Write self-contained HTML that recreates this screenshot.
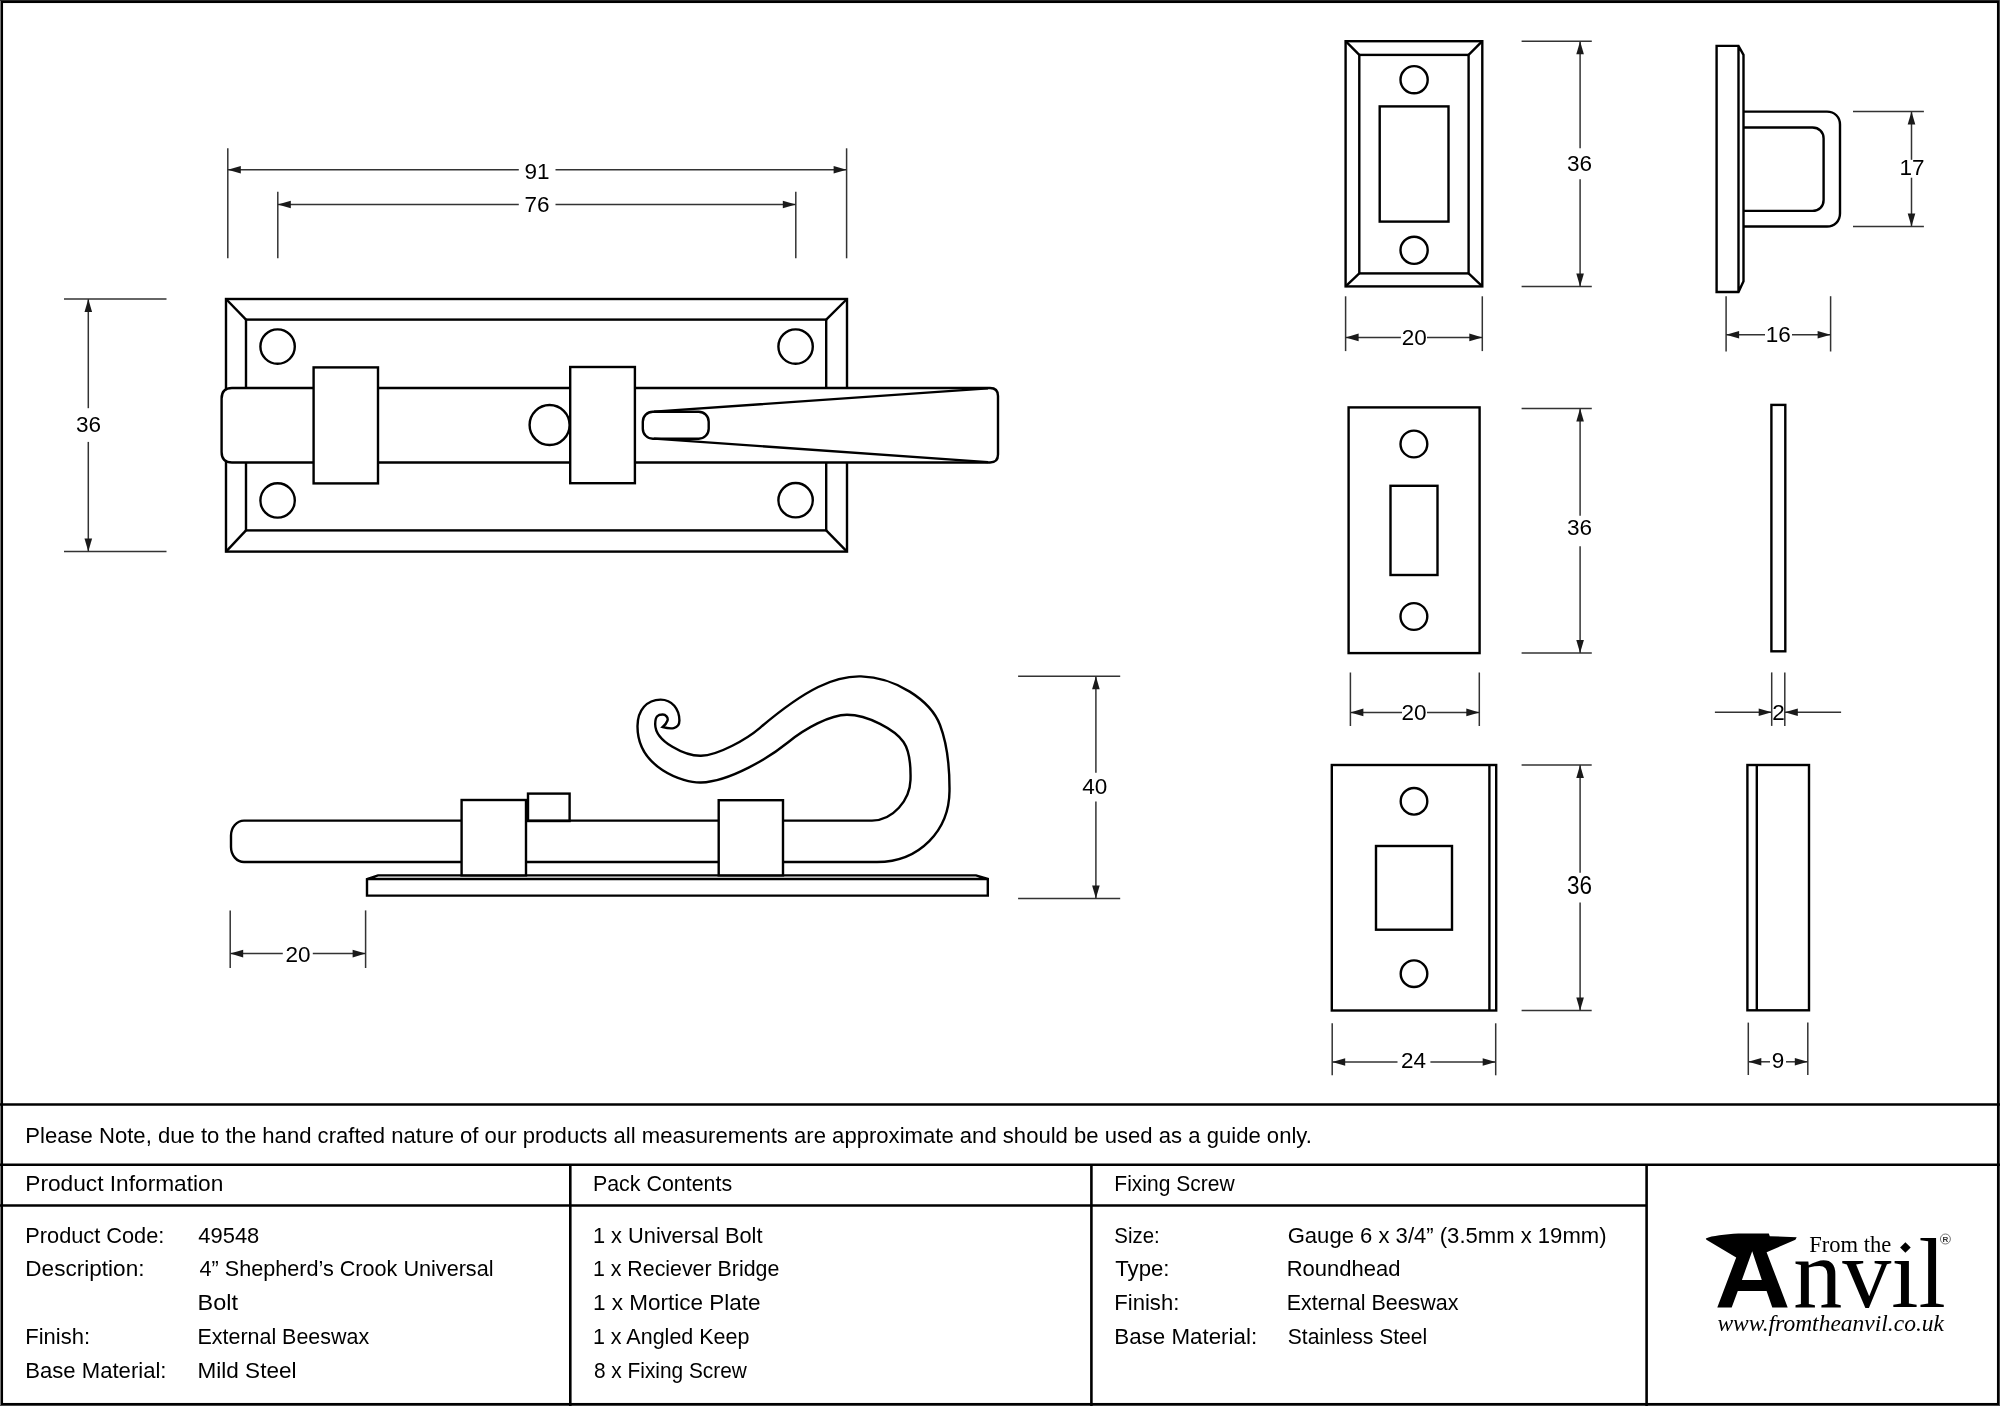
<!DOCTYPE html>
<html><head><meta charset="utf-8"><style>
html,body{margin:0;padding:0;background:#fff;width:2000px;height:1406px;overflow:hidden}
svg{display:block}
svg{will-change:transform}
text{stroke:none !important;fill:#000}
.d{font-family:"Liberation Sans",sans-serif}
.tt{font-family:"Liberation Sans",sans-serif}
.sf{font-family:"Liberation Serif",serif;fill:#000}
.si{font-family:"Liberation Serif",serif;font-style:italic;fill:#000}
.sb{font-family:"Liberation Sans",sans-serif;font-weight:bold;fill:#333}
</style></head><body>
<svg width="2000" height="1406" viewBox="0 0 2000 1406" fill="none" stroke="#000" stroke-linecap="butt" stroke-linejoin="miter">
<rect x="0" y="0" width="1" height="1406" fill="#808080" stroke="none"/>
<rect x="0" y="0" width="2000" height="1" fill="#2a2a2a" stroke="none"/>
<rect x="1999" y="0" width="1" height="1406" fill="#4a4a4a" stroke="none"/>
<rect x="0" y="1405" width="2000" height="1" fill="#4a4a4a" stroke="none"/>
<rect x="2" y="2" width="1996" height="1402" stroke-width="2.1" fill="none"/>
<rect x="226" y="299" width="621" height="252.6" stroke-width="2.4" fill="none"/>
<rect x="246" y="319.6" width="580.2" height="210.8" stroke-width="2.4" fill="none"/>
<line x1="226" y1="299" x2="246" y2="319.6" stroke-width="2.4"/>
<line x1="847" y1="299" x2="826.2" y2="319.6" stroke-width="2.4"/>
<line x1="226" y1="551.6" x2="246" y2="530.4" stroke-width="2.4"/>
<line x1="847" y1="551.6" x2="826.2" y2="530.4" stroke-width="2.4"/>
<circle cx="277.6" cy="346.6" r="17.2" stroke-width="2.4" fill="none"/>
<circle cx="277.6" cy="500.4" r="17.2" stroke-width="2.4" fill="none"/>
<circle cx="795.6" cy="346.6" r="17.2" stroke-width="2.4" fill="none"/>
<circle cx="795.6" cy="500.2" r="17.2" stroke-width="2.4" fill="none"/>
<path d="M 232 388 L 990 388 Q 998 388 998 396 L 998 454.5 Q 998 462.5 990 462.5 L 232 462.5 Q 221.6 462.5 221.6 452 L 221.6 398.5 Q 221.6 388 232 388 Z" stroke-width="2.4" fill="#fff"/>
<circle cx="549.6" cy="425" r="20" stroke-width="2.4" fill="#fff"/>
<rect x="313.6" y="367.4" width="64.4" height="116.0" stroke-width="2.4" fill="#fff"/>
<rect x="570.2" y="367" width="64.7" height="116.2" stroke-width="2.4" fill="#fff"/>
<path d="M 654 411.6 L 988 388.4 M 654 438.6 L 988 462.1" stroke-width="2.4" fill="none"/>
<rect x="642.8" y="411.7" width="65.9" height="27.0" stroke-width="2.4" fill="none" rx="10"/>
<line x1="227.8" y1="148.3" x2="227.8" y2="258.3" stroke-width="1.5" stroke="#333"/>
<line x1="846.6" y1="148.3" x2="846.6" y2="258.3" stroke-width="1.5" stroke="#333"/>
<line x1="277.8" y1="191.7" x2="277.8" y2="258.3" stroke-width="1.5" stroke="#333"/>
<line x1="795.8" y1="191.7" x2="795.8" y2="258.3" stroke-width="1.5" stroke="#333"/>
<line x1="227.8" y1="169.7" x2="518.8" y2="169.7" stroke-width="1.5" stroke="#333"/>
<line x1="555.5" y1="169.7" x2="846.6" y2="169.7" stroke-width="1.5" stroke="#333"/>
<polygon points="227.8,169.7 240.8,165.9 240.8,173.5" stroke="none" fill="#1a1a1a"/>
<polygon points="846.6,169.7 833.6,165.9 833.6,173.5" stroke="none" fill="#1a1a1a"/>
<text x="537" y="178.5" text-anchor="middle" font-size="22.5" class="d">91</text>
<line x1="277.8" y1="204.5" x2="518.8" y2="204.5" stroke-width="1.5" stroke="#333"/>
<line x1="555.5" y1="204.5" x2="795.8" y2="204.5" stroke-width="1.5" stroke="#333"/>
<polygon points="277.8,204.5 290.8,200.7 290.8,208.3" stroke="none" fill="#1a1a1a"/>
<polygon points="795.8,204.5 782.8,200.7 782.8,208.3" stroke="none" fill="#1a1a1a"/>
<text x="537" y="211.8" text-anchor="middle" font-size="22.5" class="d">76</text>
<line x1="64" y1="299" x2="166.5" y2="299" stroke-width="1.5" stroke="#333"/>
<line x1="64" y1="551.5" x2="166.5" y2="551.5" stroke-width="1.5" stroke="#333"/>
<line x1="88.3" y1="299" x2="88.3" y2="408.2" stroke-width="1.5" stroke="#333"/>
<line x1="88.3" y1="441.9" x2="88.3" y2="551.5" stroke-width="1.5" stroke="#333"/>
<polygon points="88.3,299 84.5,312 92.1,312" stroke="none" fill="#1a1a1a"/>
<polygon points="88.3,551.5 84.5,538.5 92.1,538.5" stroke="none" fill="#1a1a1a"/>
<text x="88.5" y="431.5" text-anchor="middle" font-size="22.5" class="d">36</text>
<path d="M 378 875.4 L 976 875.4 L 987.8 879 L 987.8 895.6 L 367 895.6 L 367 879 Z M 367 879 L 987.8 879" stroke-width="2.4" fill="none"/>
<path d="M 244 820.6 L 872 820.6 C 893 820.6 909.94 799.99 910.5 780 C 910.95 763.97 909.0 750.0 903.5 742 C 895.25 730.0 868.0 714.8 847 714.8 C 830.0 714.8 804.79 728.74 788.5 742 C 769.78 757.24 729.98 781.55 701 782.5 C 683.94 783.06 637.14 768.0 637.5 726 C 637.64 710.0 647.0 699.6 660.6 699.6 C 672.0 699.6 679.4 709.0 679.4 720.6 C 679.4 730.0 670 729 662.7 727 C 664.5 725.5 666.5 723.5 667.5 720.5 C 668.5 717.5 665.5 714.5 662.7 714.5 C 658.0 714.5 655.26 716.0 655.2 724 C 655.06 742.0 685.99 756.13 701 755.8 C 718.0 755.43 746.41 739.35 760 727.8 C 806.55 688.23 835.01 675.71 861 676.4 C 895.03 677.31 930.41 699.84 940 725 C 946.42 741.85 949.7 765.0 949.5 791 C 949.2 830.0 920 862 877 862 L 244 862 A 13 15 0 0 1 231 847 L 231 835.6 A 13 15 0 0 1 244 820.6 Z" stroke-width="2.4" fill="#fff"/>
<rect x="461.6" y="800" width="64.4" height="75.4" stroke-width="2.4" fill="#fff"/>
<rect x="528" y="793.6" width="41.6" height="27.4" stroke-width="2.4" fill="none"/>
<rect x="718.7" y="800.2" width="64.3" height="75.2" stroke-width="2.4" fill="#fff"/>
<line x1="1018.1" y1="676.3" x2="1120.2" y2="676.3" stroke-width="1.5" stroke="#333"/>
<line x1="1018.1" y1="898.6" x2="1120.2" y2="898.6" stroke-width="1.5" stroke="#333"/>
<line x1="1095.9" y1="676.3" x2="1095.9" y2="772.7" stroke-width="1.5" stroke="#333"/>
<line x1="1095.9" y1="801.5" x2="1095.9" y2="898.6" stroke-width="1.5" stroke="#333"/>
<polygon points="1095.9,676.3 1092.1,689.3 1099.7,689.3" stroke="none" fill="#1a1a1a"/>
<polygon points="1095.9,898.6 1092.1,885.6 1099.7,885.6" stroke="none" fill="#1a1a1a"/>
<text x="1094.8" y="794.0" text-anchor="middle" font-size="22.5" class="d">40</text>
<line x1="230.2" y1="910.4" x2="230.2" y2="968" stroke-width="1.5" stroke="#333"/>
<line x1="365.6" y1="910.4" x2="365.6" y2="968" stroke-width="1.5" stroke="#333"/>
<line x1="230.2" y1="953.6" x2="282.8" y2="953.6" stroke-width="1.5" stroke="#333"/>
<line x1="312.8" y1="953.6" x2="365.6" y2="953.6" stroke-width="1.5" stroke="#333"/>
<polygon points="230.2,953.6 243.2,949.8 243.2,957.4" stroke="none" fill="#1a1a1a"/>
<polygon points="365.6,953.6 352.6,949.8 352.6,957.4" stroke="none" fill="#1a1a1a"/>
<text x="298" y="961.6" text-anchor="middle" font-size="22.5" class="d">20</text>
<rect x="1345.6" y="41.2" width="136.7" height="245.2" stroke-width="2.4" fill="none"/>
<rect x="1359.3" y="54.9" width="109.3" height="218.5" stroke-width="2.4" fill="none"/>
<line x1="1345.6" y1="41.2" x2="1359.3" y2="54.9" stroke-width="2.4"/>
<line x1="1482.3" y1="41.2" x2="1468.6" y2="54.9" stroke-width="2.4"/>
<line x1="1345.6" y1="286.4" x2="1359.3" y2="273.4" stroke-width="2.4"/>
<line x1="1482.3" y1="286.4" x2="1468.6" y2="273.4" stroke-width="2.4"/>
<circle cx="1414.1" cy="79.7" r="13.6" stroke-width="2.4" fill="none"/>
<circle cx="1414.1" cy="250.3" r="13.6" stroke-width="2.4" fill="none"/>
<rect x="1379.7" y="106.4" width="68.8" height="115.2" stroke-width="2.4" fill="none"/>
<line x1="1521.6" y1="41.2" x2="1591.8" y2="41.2" stroke-width="1.5" stroke="#333"/>
<line x1="1521.6" y1="286.4" x2="1591.8" y2="286.4" stroke-width="1.5" stroke="#333"/>
<line x1="1580.1" y1="41.2" x2="1580.1" y2="148.2" stroke-width="1.5" stroke="#333"/>
<line x1="1580.1" y1="179.3" x2="1580.1" y2="286.4" stroke-width="1.5" stroke="#333"/>
<polygon points="1580.1,41.2 1576.3,54.2 1583.9,54.2" stroke="none" fill="#1a1a1a"/>
<polygon points="1580.1,286.4 1576.3,273.4 1583.9,273.4" stroke="none" fill="#1a1a1a"/>
<text x="1579.4" y="170.6" text-anchor="middle" font-size="22.5" class="d">36</text>
<line x1="1345.6" y1="296.3" x2="1345.6" y2="351.1" stroke-width="1.5" stroke="#333"/>
<line x1="1482.3" y1="296.3" x2="1482.3" y2="351.1" stroke-width="1.5" stroke="#333"/>
<line x1="1345.6" y1="337.4" x2="1400.9" y2="337.4" stroke-width="1.5" stroke="#333"/>
<line x1="1427" y1="337.4" x2="1482.3" y2="337.4" stroke-width="1.5" stroke="#333"/>
<polygon points="1345.6,337.4 1358.6,333.6 1358.6,341.2" stroke="none" fill="#1a1a1a"/>
<polygon points="1482.3,337.4 1469.3,333.6 1469.3,341.2" stroke="none" fill="#1a1a1a"/>
<text x="1414.2" y="344.9" text-anchor="middle" font-size="22.5" class="d">20</text>
<path d="M 1716.6 45.9 L 1738.5 45.9 L 1743.5 54.8 L 1743.5 281.3 L 1738.5 292 L 1716.6 292 Z M 1738.5 45.9 L 1738.5 292" stroke-width="2.4" fill="none"/>
<path d="M 1743.5 111.6 L 1827 111.6 C 1834.5 111.6 1840 117 1840 124.6 L 1840 213.5 C 1840 221 1834.5 226.5 1827 226.5 L 1743.5 226.5" stroke-width="2.4" fill="none"/>
<path d="M 1743.5 127.5 L 1812.5 127.5 C 1819 127.5 1823.6 132 1823.6 138.5 L 1823.6 199.9 C 1823.6 206.4 1819 210.9 1812.5 210.9 L 1743.5 210.9" stroke-width="2.4" fill="none"/>
<line x1="1853" y1="111.6" x2="1923.9" y2="111.6" stroke-width="1.5" stroke="#333"/>
<line x1="1853" y1="226.5" x2="1923.9" y2="226.5" stroke-width="1.5" stroke="#333"/>
<line x1="1911.5" y1="111.6" x2="1911.5" y2="159.8" stroke-width="1.5" stroke="#333"/>
<line x1="1911.5" y1="177.7" x2="1911.5" y2="226.5" stroke-width="1.5" stroke="#333"/>
<polygon points="1911.5,111.6 1907.7,124.6 1915.3,124.6" stroke="none" fill="#1a1a1a"/>
<polygon points="1911.5,226.5 1907.7,213.5 1915.3,213.5" stroke="none" fill="#1a1a1a"/>
<text x="1912.1" y="175.3" text-anchor="middle" font-size="22.5" class="d">17</text>
<line x1="1726.1" y1="296.2" x2="1726.1" y2="351.5" stroke-width="1.5" stroke="#333"/>
<line x1="1830.6" y1="296.2" x2="1830.6" y2="351.5" stroke-width="1.5" stroke="#333"/>
<line x1="1726.1" y1="334.8" x2="1765" y2="334.8" stroke-width="1.5" stroke="#333"/>
<line x1="1792" y1="334.8" x2="1830.6" y2="334.8" stroke-width="1.5" stroke="#333"/>
<polygon points="1726.1,334.8 1739.1,331.0 1739.1,338.6" stroke="none" fill="#1a1a1a"/>
<polygon points="1830.6,334.8 1817.6,331.0 1817.6,338.6" stroke="none" fill="#1a1a1a"/>
<text x="1778.3" y="342.3" text-anchor="middle" font-size="22.5" class="d">16</text>
<rect x="1348.6" y="407.4" width="131.0" height="245.7" stroke-width="2.4" fill="none"/>
<circle cx="1413.9" cy="444" r="13.4" stroke-width="2.4" fill="none"/>
<circle cx="1413.9" cy="616.5" r="13.4" stroke-width="2.4" fill="none"/>
<rect x="1390.5" y="485.8" width="47.0" height="89.2" stroke-width="2.4" fill="none"/>
<line x1="1521.6" y1="408.4" x2="1591.8" y2="408.4" stroke-width="1.5" stroke="#333"/>
<line x1="1521.6" y1="653.1" x2="1591.8" y2="653.1" stroke-width="1.5" stroke="#333"/>
<line x1="1580.1" y1="408.4" x2="1580.1" y2="515.8" stroke-width="1.5" stroke="#333"/>
<line x1="1580.1" y1="546.3" x2="1580.1" y2="653.1" stroke-width="1.5" stroke="#333"/>
<polygon points="1580.1,408.4 1576.3,421.4 1583.9,421.4" stroke="none" fill="#1a1a1a"/>
<polygon points="1580.1,653.1 1576.3,640.1 1583.9,640.1" stroke="none" fill="#1a1a1a"/>
<text x="1579.4" y="535.4" text-anchor="middle" font-size="22.5" class="d">36</text>
<line x1="1350.4" y1="672.5" x2="1350.4" y2="726" stroke-width="1.5" stroke="#333"/>
<line x1="1479.3" y1="672.5" x2="1479.3" y2="726" stroke-width="1.5" stroke="#333"/>
<line x1="1350.4" y1="712.4" x2="1402" y2="712.4" stroke-width="1.5" stroke="#333"/>
<line x1="1427" y1="712.4" x2="1479.3" y2="712.4" stroke-width="1.5" stroke="#333"/>
<polygon points="1350.4,712.4 1363.4,708.6 1363.4,716.2" stroke="none" fill="#1a1a1a"/>
<polygon points="1479.3,712.4 1466.3,708.6 1466.3,716.2" stroke="none" fill="#1a1a1a"/>
<text x="1414" y="719.8" text-anchor="middle" font-size="22.5" class="d">20</text>
<rect x="1771.4" y="404.9" width="13.9" height="246.4" stroke-width="2.4" fill="none"/>
<line x1="1771.7" y1="672.4" x2="1771.7" y2="725.9" stroke-width="1.5" stroke="#333"/>
<line x1="1784.8" y1="672.4" x2="1784.8" y2="725.9" stroke-width="1.5" stroke="#333"/>
<line x1="1714.9" y1="712.2" x2="1771.7" y2="712.2" stroke-width="1.5" stroke="#333"/>
<line x1="1784.8" y1="712.2" x2="1841.1" y2="712.2" stroke-width="1.5" stroke="#333"/>
<polygon points="1771.7,712.2 1758.7,708.4 1758.7,716.0" stroke="none" fill="#1a1a1a"/>
<polygon points="1784.8,712.2 1797.8,708.4 1797.8,716.0" stroke="none" fill="#1a1a1a"/>
<text x="1778.4" y="719.7" text-anchor="middle" font-size="22.5" class="d">2</text>
<rect x="1331.8" y="765" width="164.4" height="245.5" stroke-width="2.4" fill="none"/>
<line x1="1489.4" y1="765" x2="1489.4" y2="1010.5" stroke-width="2.4"/>
<circle cx="1414" cy="801.3" r="13.3" stroke-width="2.4" fill="none"/>
<circle cx="1414" cy="973.7" r="13.3" stroke-width="2.4" fill="none"/>
<rect x="1376" y="846" width="76" height="83.7" stroke-width="2.4" fill="none"/>
<line x1="1521.6" y1="765" x2="1591.7" y2="765" stroke-width="1.5" stroke="#333"/>
<line x1="1521.6" y1="1010.5" x2="1591.7" y2="1010.5" stroke-width="1.5" stroke="#333"/>
<line x1="1580.1" y1="765" x2="1580.1" y2="872.7" stroke-width="1.5" stroke="#333"/>
<line x1="1580.1" y1="902.6" x2="1580.1" y2="1010.5" stroke-width="1.5" stroke="#333"/>
<polygon points="1580.1,765 1576.3,778 1583.9,778" stroke="none" fill="#1a1a1a"/>
<polygon points="1580.1,1010.5 1576.3,997.5 1583.9,997.5" stroke="none" fill="#1a1a1a"/>
<text transform="translate(1579.5 894.3) scale(1 1.12)" x="0" y="0" text-anchor="middle" font-size="22.5" class="d">36</text>
<line x1="1332.2" y1="1023.3" x2="1332.2" y2="1075.3" stroke-width="1.5" stroke="#333"/>
<line x1="1495.7" y1="1023.3" x2="1495.7" y2="1075.3" stroke-width="1.5" stroke="#333"/>
<line x1="1332.2" y1="1062" x2="1397.5" y2="1062" stroke-width="1.5" stroke="#333"/>
<line x1="1430.4" y1="1062" x2="1495.7" y2="1062" stroke-width="1.5" stroke="#333"/>
<polygon points="1332.2,1062 1345.2,1058.2 1345.2,1065.8" stroke="none" fill="#1a1a1a"/>
<polygon points="1495.7,1062 1482.7,1058.2 1482.7,1065.8" stroke="none" fill="#1a1a1a"/>
<text x="1413.5" y="1068" text-anchor="middle" font-size="22.5" class="d">24</text>
<rect x="1747.4" y="765" width="61.6" height="245.3" stroke-width="2.4" fill="none"/>
<line x1="1756.8" y1="765" x2="1756.8" y2="1010.3" stroke-width="2.4"/>
<line x1="1748.3" y1="1022.6" x2="1748.3" y2="1075" stroke-width="1.5" stroke="#333"/>
<line x1="1807.8" y1="1022.6" x2="1807.8" y2="1075" stroke-width="1.5" stroke="#333"/>
<line x1="1748.3" y1="1061.8" x2="1770" y2="1061.8" stroke-width="1.5" stroke="#333"/>
<line x1="1786" y1="1061.8" x2="1807.8" y2="1061.8" stroke-width="1.5" stroke="#333"/>
<polygon points="1748.3,1061.8 1761.3,1058.0 1761.3,1065.6" stroke="none" fill="#1a1a1a"/>
<polygon points="1807.8,1061.8 1794.8,1058.0 1794.8,1065.6" stroke="none" fill="#1a1a1a"/>
<text x="1778" y="1067.8" text-anchor="middle" font-size="22.5" class="d">9</text>
<line x1="0" y1="1104.5" x2="2000" y2="1104.5" stroke-width="2.6"/>
<line x1="0" y1="1164.7" x2="2000" y2="1164.7" stroke-width="2.6"/>
<line x1="0" y1="1205.5" x2="1646.6" y2="1205.5" stroke-width="2.6"/>
<line x1="570.3" y1="1164.7" x2="570.3" y2="1406" stroke-width="2.6"/>
<line x1="1091.4" y1="1164.7" x2="1091.4" y2="1406" stroke-width="2.6"/>
<line x1="1646.6" y1="1164.7" x2="1646.6" y2="1406" stroke-width="2.6"/>
<text x="25.30" y="1143.0" font-size="22.5" class="tt" textLength="1286.60" lengthAdjust="spacingAndGlyphs">Please Note, due to the hand crafted nature of our products all measurements are approximate and should be used as a guide only.</text>
<text x="25.30" y="1191.2" font-size="22.5" class="tt" textLength="198.00" lengthAdjust="spacingAndGlyphs">Product Information</text>
<text x="592.90" y="1191.2" font-size="22.5" class="tt" textLength="139.20" lengthAdjust="spacingAndGlyphs">Pack Contents</text>
<text x="1114.30" y="1191.2" font-size="22.5" class="tt" textLength="120.40" lengthAdjust="spacingAndGlyphs">Fixing Screw</text>
<text x="25.30" y="1242.5" font-size="22.5" class="tt" textLength="139.00" lengthAdjust="spacingAndGlyphs">Product Code:</text>
<text x="198.30" y="1242.5" font-size="22.5" class="tt" textLength="61.00" lengthAdjust="spacingAndGlyphs">49548</text>
<text x="25.30" y="1276.4" font-size="22.5" class="tt" textLength="119.20" lengthAdjust="spacingAndGlyphs">Description:</text>
<text x="199.50" y="1276.4" font-size="22.5" class="tt" textLength="294.00" lengthAdjust="spacingAndGlyphs">4” Shepherd’s Crook Universal</text>
<text x="197.50" y="1310.25" font-size="22.5" class="tt" textLength="40.40" lengthAdjust="spacingAndGlyphs">Bolt</text>
<text x="25.30" y="1344.1" font-size="22.5" class="tt" textLength="64.80" lengthAdjust="spacingAndGlyphs">Finish:</text>
<text x="197.50" y="1344.1" font-size="22.5" class="tt" textLength="171.60" lengthAdjust="spacingAndGlyphs">External Beeswax</text>
<text x="25.30" y="1378" font-size="22.5" class="tt" textLength="141.20" lengthAdjust="spacingAndGlyphs">Base Material:</text>
<text x="197.50" y="1378" font-size="22.5" class="tt" textLength="99.00" lengthAdjust="spacingAndGlyphs">Mild Steel</text>
<text x="592.90" y="1242.5" font-size="22.5" class="tt" textLength="169.60" lengthAdjust="spacingAndGlyphs">1 x Universal Bolt</text>
<text x="592.90" y="1276.4" font-size="22.5" class="tt" textLength="186.40" lengthAdjust="spacingAndGlyphs">1 x Reciever Bridge</text>
<text x="592.90" y="1310.25" font-size="22.5" class="tt" textLength="167.60" lengthAdjust="spacingAndGlyphs">1 x Mortice Plate</text>
<text x="592.90" y="1344.1" font-size="22.5" class="tt" textLength="156.60" lengthAdjust="spacingAndGlyphs">1 x Angled Keep</text>
<text x="593.90" y="1378" font-size="22.5" class="tt" textLength="153.00" lengthAdjust="spacingAndGlyphs">8 x Fixing Screw</text>
<text x="1114.30" y="1242.5" font-size="22.5" class="tt" textLength="45.40" lengthAdjust="spacingAndGlyphs">Size:</text>
<text x="1287.70" y="1242.5" font-size="22.5" class="tt" textLength="318.80" lengthAdjust="spacingAndGlyphs">Gauge 6 x 3/4” (3.5mm x 19mm)</text>
<text x="1115.30" y="1276.4" font-size="22.5" class="tt" textLength="54.20" lengthAdjust="spacingAndGlyphs">Type:</text>
<text x="1286.70" y="1276.4" font-size="22.5" class="tt" textLength="113.80" lengthAdjust="spacingAndGlyphs">Roundhead</text>
<text x="1114.30" y="1310.25" font-size="22.5" class="tt" textLength="65.00" lengthAdjust="spacingAndGlyphs">Finish:</text>
<text x="1286.70" y="1310.25" font-size="22.5" class="tt" textLength="171.80" lengthAdjust="spacingAndGlyphs">External Beeswax</text>
<text x="1114.30" y="1344.1" font-size="22.5" class="tt" textLength="142.80" lengthAdjust="spacingAndGlyphs">Base Material:</text>
<text x="1287.70" y="1344.1" font-size="22.5" class="tt" textLength="139.60" lengthAdjust="spacingAndGlyphs">Stainless Steel</text>
<g id="logo">
<path d="M 1705.8 1238.4 C 1712 1236 1725 1234.2 1738.4 1233.6 L 1768.8 1233.6 L 1769.8 1236.2 L 1796.7 1237.2 L 1795.4 1239.7 L 1766.6 1252.2 L 1787.7 1307.5 L 1772.3 1307.5 L 1766.6 1291.1 L 1737.8 1291.1 L 1731.7 1307.5 L 1717.3 1307.5 L 1736.2 1257.4 L 1706.4 1239.7 Z M 1741.9 1280 L 1761.8 1280 L 1752.2 1251.2 Z" stroke="none" fill-rule="evenodd" fill="#000"/>
<text x="1809.3" y="1251.9" font-size="23.5" class="sf" textLength="82" lengthAdjust="spacingAndGlyphs">From the</text>
<text x="1793.2" y="1307.3" font-size="100" class="sf" textLength="152.5" lengthAdjust="spacingAndGlyphs">nvıl</text>
<polygon points="1905.4,1242.2 1910.7,1247.5 1905.4,1252.8 1900.1,1247.5" fill="#000" stroke="none"/>
<circle cx="1945.4" cy="1239" r="5" stroke-width="0.9" stroke="#666" fill="none"/>
<text x="1945.5" y="1241.9" font-size="8" class="sb" text-anchor="middle">R</text>
<text x="1717.4" y="1330.6" font-size="24" class="si" textLength="226.6" lengthAdjust="spacingAndGlyphs">www.fromtheanvil.co.uk</text>
</g>
</svg>
</body></html>
